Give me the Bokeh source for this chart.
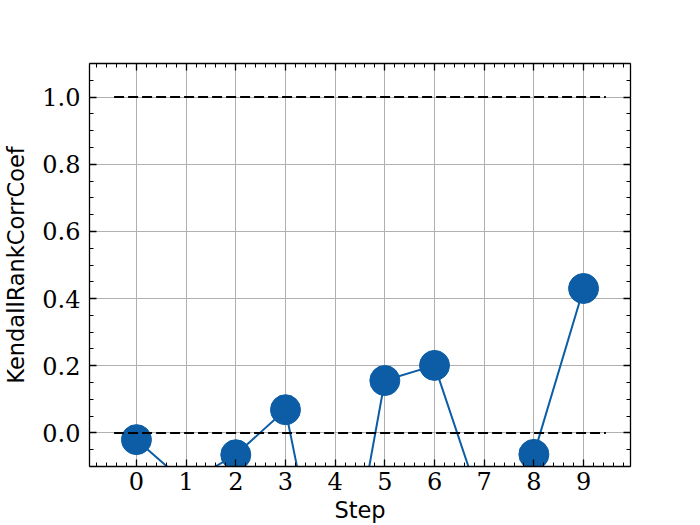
from bokeh.plotting import figure
from bokeh.models import LinearAxis, FixedTicker, Range1d, CustomJSTickFormatter
from bokeh.embed import file_html
from bokeh.resources import INLINE

# ---- data ----
steps = [0, 1, 2, 3, 4, 5, 6, 7, 8, 9]
kendall = [-0.020, -0.15, -0.065, 0.069, -0.66, 0.156, 0.201, -0.24, -0.064, 0.43]
ref_levels = [0.0, 1.0]
ref_x = [-0.45, 9.45]
x_ticks = [0, 1, 2, 3, 4, 5, 6, 7, 8, 9]
x_tick_labels = ["0", "1", "2", "3", "4", "5", "6", "7", "8", "9"]
y_ticks = [0.0, 0.2, 0.4, 0.6, 0.8, 1.0]
y_tick_labels = ["0.0", "0.2", "0.4", "0.6", "0.8", "1.0"]
x_label = "Step"
y_label = "KendallRankCorrCoef"

BLUE = "#0C5DA5"
x_minor = [round(-0.8 + 0.2 * i, 2) for i in range(54)]
y_minor = [round(-0.1 + 0.05 * i, 3) for i in range(25)]

p = figure(width=700, height=525, output_backend="svg", toolbar_location=None,
           x_range=Range1d(-0.945, 9.945), y_range=Range1d(-0.1, 1.1),
           min_border_left=88, min_border_right=70, min_border_top=63, min_border_bottom=58,
           background_fill_color="white", border_fill_color="white")
p.outline_line_color = None

xt = FixedTicker(ticks=x_ticks, minor_ticks=x_minor)
yt = FixedTicker(ticks=y_ticks, minor_ticks=y_minor)

p.add_layout(LinearAxis(), "above")
p.add_layout(LinearAxis(), "right")

blank = CustomJSTickFormatter(code="return '';")

for ax in p.xaxis:
    ax.ticker = xt
for ax in p.yaxis:
    ax.ticker = yt

for ax in list(p.xaxis) + list(p.yaxis):
    ax.major_tick_in = 7
    ax.major_tick_out = 0
    ax.minor_tick_in = 4
    ax.minor_tick_out = 0
    ax.axis_line_color = "black"
    ax.axis_line_width = 1.3
    ax.major_tick_line_color = "black"
    ax.major_tick_line_width = 1.3
    ax.minor_tick_line_color = "black"
    ax.minor_tick_line_width = 1.0
    ax.major_label_text_font = "DejaVu Serif"
    ax.major_label_text_font_size = "24px"
    ax.major_label_text_color = "black"

p.above[0].formatter = blank
p.right[0].formatter = blank

bx = p.below[0]
bx.major_label_overrides = {t: l for t, l in zip(x_ticks, x_tick_labels)}
bx.major_label_standoff = 5
bx.axis_label = x_label
bx.axis_label_text_font = "DejaVu Sans"
bx.axis_label_text_font_size = "22.5px"
bx.axis_label_text_font_style = "normal"
bx.axis_label_text_color = "black"
bx.axis_label_standoff = 4

ly = p.left[0]
ly.major_label_overrides = {t: l for t, l in zip(y_ticks, y_tick_labels)}
ly.major_label_standoff = 9
ly.axis_label = y_label
ly.axis_label_text_font = "DejaVu Sans"
ly.axis_label_text_font_size = "22.5px"
ly.axis_label_text_font_style = "normal"
ly.axis_label_text_color = "black"
ly.axis_label_standoff = 10

p.xgrid.grid_line_color = "#b0b0b0"
p.ygrid.grid_line_color = "#b0b0b0"
p.xgrid.grid_line_width = 1
p.ygrid.grid_line_width = 1

p.line(steps, kendall, line_color=BLUE, line_width=2)
p.scatter(steps, kendall, size=30, fill_color=BLUE, line_color=BLUE)

for lvl in ref_levels:
    p.line(ref_x, [lvl, lvl], line_color="black", line_width=2, line_dash="10 4")

open("out.html", "w").write(file_html(p, INLINE))
